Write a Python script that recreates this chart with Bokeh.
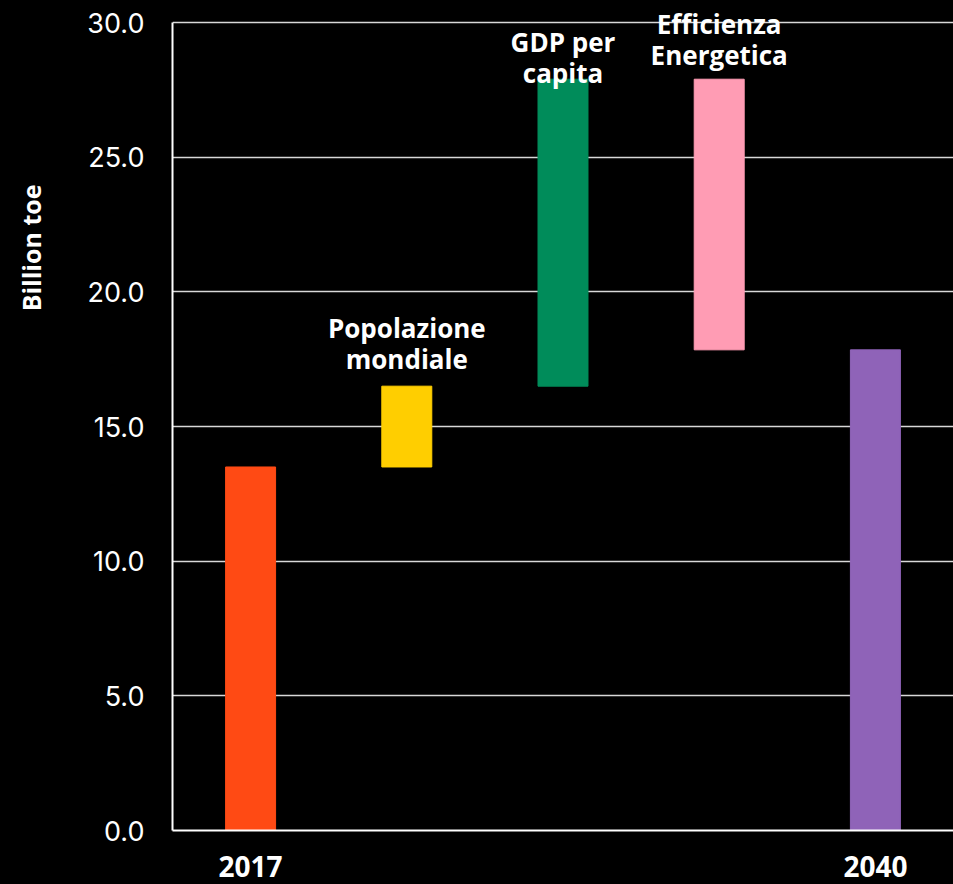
import math
from bokeh.plotting import figure
from bokeh.layouts import row
from bokeh.models import ColumnDataSource, FixedTicker, Range1d
from bokeh.core.properties import value
from bokeh.embed import file_html
from bokeh.resources import INLINE

# ---- data ----
categories = ["2017", "Popolazione mondiale", "GDP per capita", "Efficienza Energetica", "2040"]
x_labels = ["2017", "", "", "", "2040"]
bar_labels = ["", "Popolazione\nmondiale", "GDP per\ncapita", "Efficienza\nEnergetica", ""]
bottoms = [0.0, 13.5, 16.5, 17.85, 0.0]
tops = [13.5, 16.5, 27.9, 27.9, 17.85]
colors = ["#ff4a14", "#ffce00", "#008c5a", "#ff9cb4", "#8f63b8"]
label_offsets = [0, -9, 12, -6, 0]  # pixels
y_ticks = [0, 5, 10, 15, 20, 25, 30]
y_title = "Billion toe"

W, H = 953, 884
LW = 60  # width of the strip holding the y-axis title

xs = list(range(1, len(categories) + 1))
src = ColumnDataSource(dict(x=xs, bottom=bottoms, top=tops, color=colors, cat=categories))

p = figure(width=W - LW, height=H, output_backend="svg", toolbar_location=None,
           x_range=Range1d(0.5, len(categories) + 0.5), y_range=Range1d(0, 30.6),
           min_border_left=172 - LW, min_border_right=0, min_border_top=6, min_border_bottom=54,
           background_fill_color="black", border_fill_color="black")
p.outline_line_color = None

p.vbar(x="x", bottom="bottom", top="top", width=0.32, color="color", source=src)

lab_idx = [i for i, t in enumerate(bar_labels) if t]
lsrc = ColumnDataSource(dict(x=[xs[i] for i in lab_idx], y=[tops[i] for i in lab_idx],
                             text=[bar_labels[i] for i in lab_idx],
                             yo=[label_offsets[i] for i in lab_idx]))
p.text(x="x", y="y", text="text", y_offset="yo", source=lsrc,
       text_align="center", text_baseline="bottom", text_color="white",
       text_font=value("Open Sans"), text_font_style="bold", text_font_size="26px",
       text_line_height=0.87)

# axes
p.xgrid.grid_line_color = None
p.ygrid.grid_line_color = "#d8d8d8"
p.ygrid.grid_line_width = 1.5
p.yaxis.ticker = FixedTicker(ticks=y_ticks)
p.yaxis.bounds = (0, 30)
p.yaxis.major_label_overrides = {t: f"{t:.1f}" for t in y_ticks}
p.xaxis.ticker = FixedTicker(ticks=xs)
p.xaxis.major_label_overrides = {x: l for x, l in zip(xs, x_labels)}

for ax in (p.xaxis, p.yaxis):
    ax.axis_line_color = "white"
    ax.axis_line_width = 2
    ax.major_tick_line_color = None
    ax.minor_tick_line_color = None
    ax.major_tick_out = 0
    ax.major_tick_in = 0
    ax.major_label_text_color = "white"

p.yaxis.major_label_text_font = "Inter"
p.yaxis.major_label_text_font_size = "27px"
p.yaxis.major_label_standoff = 28

p.xaxis.major_label_text_font = "Open Sans"
p.xaxis.major_label_text_font_style = "bold"
p.xaxis.major_label_text_font_size = "28px"
p.xaxis.major_label_standoff = 25

# strip on the left for the y-axis title (pixel-space ranges)
t = figure(width=LW, height=H, output_backend="svg", toolbar_location=None,
           x_range=Range1d(0, LW), y_range=Range1d(0, H),
           min_border=0, background_fill_color="black", border_fill_color="black")
t.axis.visible = False
t.grid.visible = False
t.outline_line_color = None
t.text(x=[LW / 2], y=[H - 259], text=[y_title], angle=math.pi / 2,
       text_align="center", text_baseline="middle", text_color="white",
       text_font=value("Open Sans"), text_font_style="bold", text_font_size="25px")

layout = row(t, p, spacing=0, styles={"background-color": "black"})
open("out.html", "w").write(file_html(layout, INLINE))
